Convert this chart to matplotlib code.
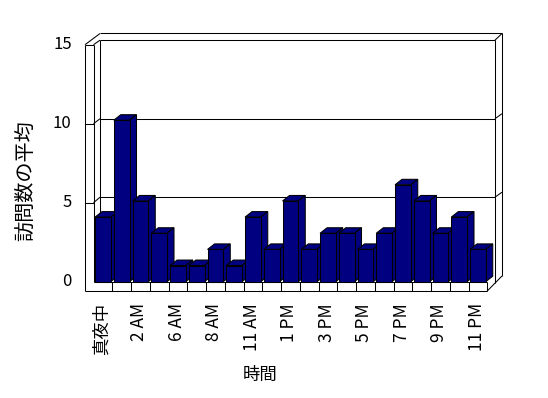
import matplotlib.pyplot as plt
from matplotlib.patches import Polygon

plt.rcParams['font.family'] = ['Noto Sans CJK JP', 'DejaVu Sans']

# data
hours = ['真夜中', '1 AM', '2 AM', '5 AM', '6 AM', '7 AM', '8 AM', '9 AM', '11 AM', '12 PM',
         '1 PM', '2 PM', '3 PM', '4 PM', '5 PM', '6 PM', '7 PM', '8 PM', '9 PM', '10 PM', '11 PM']
visits = [4, 10, 5, 3, 1, 1, 2, 1, 4, 2, 5, 2, 3, 3, 2, 3, 6, 5, 3, 4, 2]
yticks = [0, 5, 10, 15]
xtitle = '時間'
ytitle = '訪問数の平均'

W, H = 548, 398
XS, YS = 18.75, 16.15      # pixels per category / per visit
X0, Y0 = 102.9, 281.7      # pixel of first category centre / of zero
NAVY = '#000080'
LW = 0.75

fig = plt.figure(figsize=(W / 100, H / 100), dpi=100)
ax = fig.add_axes([0, 0, 1, 1])
ax.set_xlim(-X0 / XS, (W - X0) / XS)
ax.set_ylim((Y0 - H) / YS, Y0 / YS)
ax.set_axis_off()

n = len(visits)


def line(xs, ys, z=1):
    ax.plot(xs, ys, color='black', lw=LW, solid_capstyle='butt', zorder=z)


def front(v):       # front plane (left wall edge)
    return v * 15.8 / YS


def back(v):        # back wall
    return (6 + v * 15.7) / YS


xa = -0.5 - 8.5 / XS        # left wall outer edge
xb = -0.5                   # left wall inner edge
xc = -0.5 + 6.5 / XS        # back wall left
xr = n - 0.5 + 7.7 / XS     # back wall right
xro = xr + 7 / XS           # outer right slab
ytop = yticks[-1]
yo = back(ytop) + 6.7 / YS  # outer top
fb = -9.3 / YS              # floor front bottom

# left wall
line([xa, xa], [front(ytop), fb])
line([xb, xb], [front(ytop), 0])
line([xa, xb], [front(ytop), front(ytop)])
line([xa, xc], [front(ytop), yo])
line([xb, xc], [front(ytop), back(ytop)])
line([xc, xc], [back(ytop), back(0)])
# top and right edges of back wall
line([xc, xr], [back(ytop), back(ytop)])
line([xc, xro], [yo, yo])
line([xr, xro], [back(ytop), yo])
yend = back(0) - 0.3 / YS
yd = fb + (xr - (n - 0.5)) / (xro - (n - 0.5)) * (yend - fb)
line([n - 0.5, xro], [fb, yend])
line([xr, xr], [back(ytop), yd])
line([xro, xro], [yo, yend])

# gridlines
for v in yticks[1:-1]:
    line([xa, xb], [front(v), front(v)])
    line([xb, xc], [front(v), back(v)])
    line([xc, xr], [back(v), back(v)])
    line([xr, xro], [back(v), back(v) + 5 / YS])

# floor
line([xb, n - 0.5], [0, 0])
line([xa, n - 0.5], [fb, fb])
line([n - 0.5, n - 0.5], [0, fb])
for i in range(n - 1):
    line([i + 0.5, i + 0.5], [0, fb])

# bars
hw = 15.7 / 2 / XS
bdx, bdy = 7 / XS, 5.5 / YS
for i, v in enumerate(visits):
    z = 3 + i * 0.01
    l, r = i - hw, i + hw
    top = Polygon([(l, v), (r, v), (r + bdx, v + bdy), (l + bdx, v + bdy)],
                  closed=True, facecolor=NAVY, edgecolor='black', lw=LW, zorder=z)
    side = Polygon([(r, 0), (r + bdx, bdy), (r + bdx, v + bdy), (r, v)],
                   closed=True, facecolor=NAVY, edgecolor='black', lw=LW, zorder=z)
    face = Polygon([(l, 0), (r, 0), (r, v), (l, v)],
                   closed=True, facecolor=NAVY, edgecolor='black', lw=LW, zorder=z + 0.001)
    ax.add_patch(top)
    ax.add_patch(side)
    ax.add_patch(face)

# tick labels
for v in yticks:
    ax.text((71.7 - X0) / XS, front(v), str(v), ha='right', va='center', fontsize=12)
for i in range(0, n, 2):
    ax.text(i - 1 / XS, (Y0 - 303) / YS, hours[i], rotation=90,
            ha='center', va='top', fontsize=12.5)

ax.text((259.7 - X0) / XS, (Y0 - 375) / YS, xtitle, ha='center', va='center', fontsize=12.5)
ax.text((26 - X0) / XS, (Y0 - 181) / YS, ytitle, rotation=90,
        ha='center', va='center', fontsize=14.5)

fig.savefig('out.png', dpi=100)
